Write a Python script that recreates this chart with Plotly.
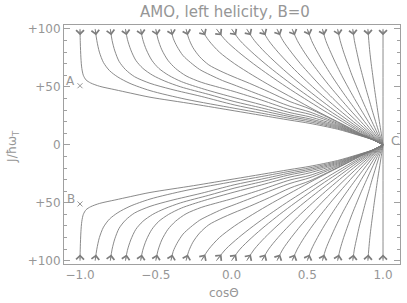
import numpy as np
import plotly.graph_objects as go

# ---------------- data ----------------
title_text = "AMO, left helicity, B=0"
x_title = "cosΘ"
y_title = "J/ħω<sub>T</sub>"

x_tick_vals = [-1.0, -0.5, 0.0, 0.5, 1.0]
x_tick_text = ["−1.0", "−0.5", "0.0", "0.5", "1.0"]
y_tick_vals = [100, 50, 0, -50, -100]
y_tick_text = ["+100", "+50", "0", "+50", "+100"]

point_labels = ["A", "B", "C"]
point_x = [-1.0, -1.0, 1.0]
point_y = [51, -51, 0]

# flow lines of the upper half (cosΘ, J); the lower half is their mirror image
curve_00 = [(-1.0, 100), (-0.998, 88), (-0.994, 75), (-0.988, 66), (-0.978, 60), (-0.96, 56),
            (-0.93, 53.4), (-0.87, 50.5), (-0.77, 47.6), (-0.665, 44.6), (-0.538, 41.1),
            (-0.25, 35.2), (0.017, 29.4), (0.2, 25.4), (0.386, 21.3), (0.518, 18.5),
            (0.7, 13.5), (0.83, 8.6), (0.93, 4.5), (1.0, 0)]
curve_01 = [(-0.9, 100), (-0.889, 90), (-0.872, 80), (-0.845, 71), (-0.805, 64), (-0.75, 58.5),
            (-0.67, 53), (-0.538, 46.8), (-0.3, 39.3), (0.017, 31.6), (0.2, 27.3), (0.386, 22.8),
            (0.518, 19.8), (0.7, 14.3), (0.85, 8.1), (0.93, 4.55), (1.0, 0)]
curve_02 = [(-0.8, 100), (-0.788, 90), (-0.77, 81), (-0.742, 72), (-0.7, 65), (-0.64, 58.8),
            (-0.538, 53.1), (-0.4, 48), (-0.2, 41.8), (0.017, 34.5), (0.2, 29.5), (0.386, 24.3),
            (0.518, 21.1), (0.7, 15.1), (0.85, 8.35), (0.93, 4.6), (1.0, 0)]
curve_03 = [(-0.7, 100), (-0.687, 91), (-0.665, 82), (-0.632, 73), (-0.585, 66), (-0.52, 60),
            (-0.44, 55), (-0.335, 50), (-0.15, 43.5), (0.017, 37.4), (0.2, 31.8), (0.386, 25.8),
            (0.518, 22.4), (0.7, 15.9), (0.85, 8.6), (0.93, 4.65), (1.0, 0)]
curve_04 = [(-0.6, 100), (-0.586, 91), (-0.562, 82), (-0.526, 73), (-0.48, 66), (-0.415, 60),
            (-0.33, 54.5), (-0.18, 48), (0.017, 40.8), (0.2, 34.5), (0.386, 27.8), (0.518, 24.1),
            (0.7, 16.7), (0.85, 8.85), (0.93, 4.7), (1.0, 0)]
curve_05 = [(-0.5, 100), (-0.485, 91), (-0.46, 82), (-0.42, 73), (-0.37, 66), (-0.3, 59.5),
            (-0.2, 54), (-0.08, 49.5), (0.017, 46), (0.2, 38.5), (0.386, 30.3), (0.518, 26.3),
            (0.7, 17.6), (0.85, 9.1), (0.93, 4.75), (1.0, 0)]
curve_06 = [(-0.4, 100), (-0.385, 92), (-0.36, 85), (-0.32, 77), (-0.27, 71), (-0.21, 65),
            (-0.14, 60.3), (-0.06, 55.5), (0.017, 51.7), (0.2, 42.5), (0.386, 33.3), (0.518, 28.3),
            (0.7, 18.5), (0.85, 9.4), (0.93, 4.8), (1.0, 0)]
curve_07 = [(-0.3, 100), (-0.283, 92), (-0.255, 84), (-0.21, 76), (-0.15, 69), (-0.07, 63.5),
            (0.017, 58.5), (0.12, 53), (0.25, 45.5), (0.386, 37.3), (0.518, 31), (0.7, 19.5),
            (0.85, 9.7), (0.93, 4.85), (1.0, 0)]
curve_08 = [(-0.2, 100), (-0.15, 90), (-0.08, 80), (0.02, 70), (0.14, 60), (0.27, 50), (0.41, 40),
            (0.55, 30), (0.7, 20), (0.85, 10), (0.925, 5), (1.0, 0)]
curve_09 = [(-0.1, 100), (-0.038, 90), (0.047, 80), (0.144, 70), (0.25, 60), (0.362, 50), (0.481, 40),
            (0.604, 30), (0.733, 20), (0.865, 10), (0.932, 5), (1.0, 0)]
curve_10 = [(0.0, 100), (0.056, 90), (0.134, 80), (0.222, 70), (0.318, 60), (0.42, 50), (0.528, 40),
            (0.64, 30), (0.757, 20), (0.877, 10), (0.938, 5), (1.0, 0)]
curve_11 = [(0.1, 100), (0.151, 90), (0.22, 80), (0.3, 70), (0.386, 60), (0.478, 50), (0.575, 40),
            (0.676, 30), (0.781, 20), (0.889, 10), (0.944, 5), (1.0, 0)]
curve_12 = [(0.2, 100), (0.245, 90), (0.307, 80), (0.378, 70), (0.454, 60), (0.536, 50), (0.622, 40),
            (0.712, 30), (0.805, 20), (0.902, 10), (0.95, 5), (1.0, 0)]
curve_13 = [(0.3, 100), (0.339, 90), (0.394, 80), (0.455, 70), (0.523, 60), (0.594, 50), (0.67, 40),
            (0.748, 30), (0.83, 20), (0.914, 10), (0.957, 5), (1.0, 0)]
curve_14 = [(0.4, 100), (0.434, 90), (0.48, 80), (0.533, 70), (0.591, 60), (0.652, 50), (0.717, 40),
            (0.784, 30), (0.854, 20), (0.926, 10), (0.963, 5), (1.0, 0)]
curve_15 = [(0.5, 100), (0.528, 90), (0.567, 80), (0.611, 70), (0.659, 60), (0.71, 50), (0.764, 40),
            (0.82, 30), (0.878, 20), (0.938, 10), (0.969, 5), (1.0, 0)]
curve_16 = [(0.6, 100), (0.622, 90), (0.654, 80), (0.689, 70), (0.727, 60), (0.768, 50), (0.811, 40),
            (0.856, 30), (0.903, 20), (0.951, 10), (0.975, 5), (1.0, 0)]
curve_17 = [(0.7, 100), (0.717, 90), (0.74, 80), (0.767, 70), (0.795, 60), (0.826, 50), (0.858, 40),
            (0.892, 30), (0.927, 20), (0.963, 10), (0.981, 5), (1.0, 0)]
curve_18 = [(0.8, 100), (0.811, 90), (0.827, 80), (0.844, 70), (0.864, 60), (0.884, 50), (0.906, 40),
            (0.928, 30), (0.951, 20), (0.975, 10), (0.988, 5), (1.0, 0)]
curve_19 = [(0.9, 100), (0.906, 90), (0.913, 80), (0.922, 70), (0.932, 60), (0.942, 50), (0.953, 40),
            (0.964, 30), (0.976, 20), (0.988, 10), (0.994, 5), (1.0, 0)]
curve_20 = [(1.0, 100), (1.0, 50), (1.0, 0)]

top_curves = [curve_00, curve_01, curve_02, curve_03, curve_04, curve_05, curve_06,
              curve_07, curve_08, curve_09, curve_10, curve_11, curve_12, curve_13,
              curve_14, curve_15, curve_16, curve_17, curve_18, curve_19, curve_20]

# ---------------- style ----------------
LINE = "rgb(125,125,125)"
TXT = "rgb(150,150,150)"
AX = "rgb(160,160,160)"
FONT = "DejaVu Sans"
ARROW_TIP = 94.5

fig = go.Figure()
annotations = []

for c in top_curves:
    xs = np.array([p[0] for p in c], dtype=float)
    ys = np.array([p[1] for p in c], dtype=float)
    for sgn in (1, -1):
        fig.add_trace(go.Scatter(x=xs, y=sgn * ys, mode="lines",
                                 line=dict(color=LINE, width=0.9, shape="spline", smoothing=0.8),
                                 hoverinfo="skip"))
        tip_x = float(np.interp(ARROW_TIP, ys[::-1], xs[::-1]))
        annotations.append(dict(x=tip_x, y=sgn * ARROW_TIP, ax=xs[0], ay=sgn * ys[0],
                                xref="x", yref="y", axref="x", ayref="y", text="",
                                showarrow=True, arrowhead=4, arrowsize=1.9, arrowwidth=0.8,
                                arrowcolor=LINE, standoff=0))

# A and B crosses
fig.add_trace(go.Scatter(x=point_x[:2], y=point_y[:2], mode="markers",
                         marker=dict(symbol="x-thin", size=5, line=dict(color=TXT, width=1)),
                         hoverinfo="skip"))
for lab, px, py in zip(point_labels, point_x, point_y):
    if lab == "C":
        annotations.append(dict(x=px, y=py, xref="x", yref="y", text=lab, showarrow=False,
                                xanchor="left", yanchor="middle", xshift=6, yshift=4,
                                font=dict(family=FONT, size=12, color=TXT)))
    else:
        annotations.append(dict(x=px, y=py, xref="x", yref="y", text=lab, showarrow=False,
                                xanchor="right", yanchor="middle", xshift=-3, yshift=5,
                                font=dict(family=FONT, size=12, color=TXT)))

# axis titles
annotations.append(dict(x=0.475, y=0, xref="paper", yref="paper", text=x_title, showarrow=False,
                        xanchor="center", yanchor="middle", yshift=-29,
                        font=dict(family=FONT, size=12, color=TXT)))
annotations.append(dict(x=0, y=0.49, xref="paper", yref="paper", text=y_title, showarrow=False,
                        textangle=-90, xanchor="center", yanchor="middle", xshift=-51,
                        font=dict(family=FONT, size=12, color=TXT)))

fig.update_layout(
    width=407, height=303,
    margin=dict(l=64, r=7, t=25, b=39),
    plot_bgcolor="white", paper_bgcolor="white",
    showlegend=False,
    title=dict(text=title_text, x=0.479, xref="paper", xanchor="center", y=0.962, yanchor="middle",
               font=dict(family=FONT, size=15, color=TXT)),
    annotations=annotations,
    xaxis=dict(range=[-1.1056, 1.112], showgrid=False, zeroline=False,
               showline=True, linecolor=AX, linewidth=1, mirror=True,
               tickmode="array", tickvals=x_tick_vals, ticktext=x_tick_text,
               ticks="", tickfont=dict(family=FONT, size=12, color=TXT)),
    yaxis=dict(range=[-102.8, 103.4], showgrid=False, zeroline=False,
               showline=True, linecolor=AX, linewidth=1, mirror="ticks",
               tickmode="array", tickvals=y_tick_vals, ticktext=y_tick_text,
               ticks="inside", ticklen=6, tickcolor=AX, tickwidth=1,
               minor=dict(tickmode="linear", tick0=0, dtick=10, ticks="inside",
                          ticklen=3, tickcolor=AX, tickwidth=1),
               tickfont=dict(family=FONT, size=12, color=TXT)),
)

fig.write_html("out.html", config={"displayModeBar": False},
               post_script="document.body.style.margin='0';document.body.style.padding='0';")
